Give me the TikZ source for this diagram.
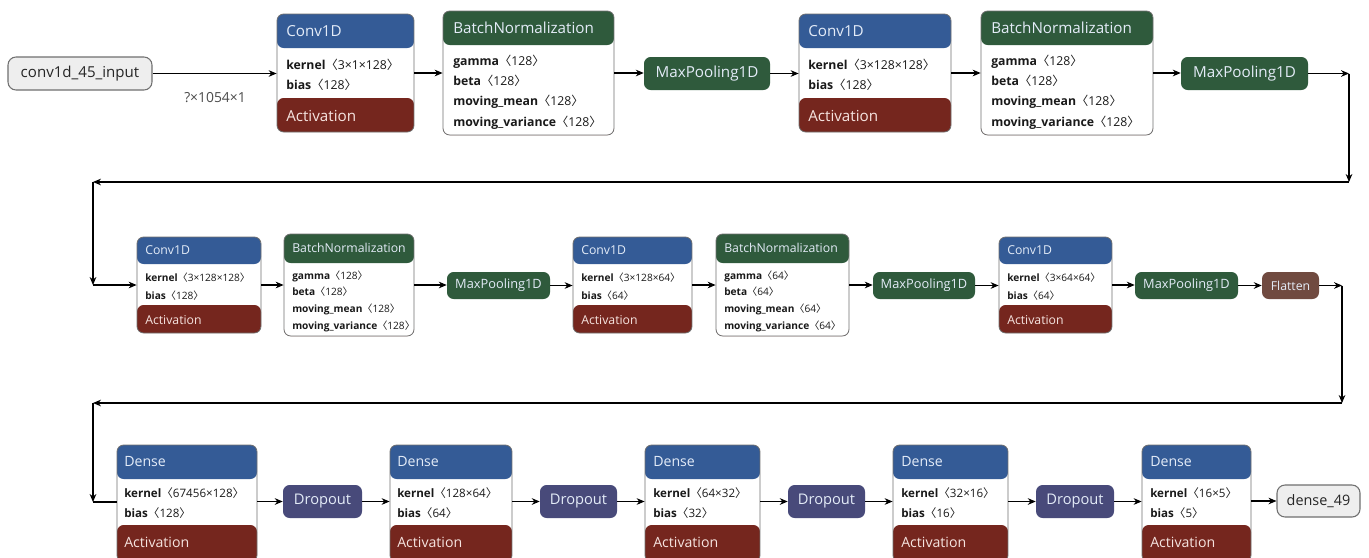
\documentclass[tikz,border=0pt]{standalone}
\usepackage{fontspec}
\setmainfont{Open Sans}
\newfontfamily\cjk{Noto Sans CJK SC}
\usetikzlibrary{fit,calc,arrows.meta}
\definecolor{convblue}{RGB}{52,91,150}
\definecolor{actred}{RGB}{117,38,30}
\definecolor{bngreen}{RGB}{47,90,60}
\definecolor{dropblue}{RGB}{72,74,122}
\definecolor{flatbrown}{RGB}{112,74,64}
\definecolor{edgegray}{RGB}{112,112,112}
\definecolor{iogray}{RGB}{238,238,238}
\definecolor{hdrtxt}{RGB}{228,236,248}
\definecolor{acttxt}{RGB}{246,228,224}
\definecolor{partxt}{RGB}{25,25,25}
\newcommand\br[1]{{\cjk 〈}#1{\cjk 〉}}
\tikzset{
  lay/.style n args={3}{draw=edgegray, line width=0.6pt, rounded corners=5pt, fill=white, inner sep=0pt,
    path picture={
      \fill[#1] (path picture bounding box.north west) rectangle ([yshift=-#2]path picture bounding box.north east);
      \fill[actred] (path picture bounding box.south west) rectangle ([yshift=#3]path picture bounding box.south east);
    }},
  pill/.style={draw=none, rounded corners=5pt, inner sep=0pt, fill=#1},
  pilltxt/.style={inner sep=0pt, text=hdrtxt, anchor=center},
  io/.style={draw=edgegray, line width=0.8pt, rounded corners=6pt, inner sep=0pt, fill=iogray},
  iotxt/.style={inner sep=0pt, text=black!85, anchor=center},
  ttlA/.style={anchor=west, inner sep=0pt, text=hdrtxt, font=\fontsize{11.4}{13}\selectfont},
  parA/.style={anchor=west, inner sep=0pt, text=partxt, font=\fontsize{9.2}{10}\selectfont},
  ttlB/.style={anchor=west, inner sep=0pt, text=hdrtxt, font=\fontsize{9.2}{11}\selectfont},
  parB/.style={anchor=west, inner sep=0pt, text=partxt, font=\fontsize{7.6}{8.5}\selectfont},
  ttlC/.style={anchor=west, inner sep=0pt, text=hdrtxt, font=\fontsize{10.6}{12}\selectfont},
  parC/.style={anchor=west, inner sep=0pt, text=partxt, font=\fontsize{8.7}{9.5}\selectfont},
  actA/.style={ttlA, text=acttxt},
  actB/.style={ttlB, text=acttxt},
  actC/.style={ttlC, text=acttxt},
  arr/.style={-{Stealth[length=6pt,width=5pt]}, line width=0.8pt, black},
  ln/.style={line width=0.8pt, black},
}
\begin{document}
\begin{tikzpicture}[x=0.75pt, y=-0.75pt]
\useasboundingbox (0,0) rectangle (1369,557);
\fill[white] (0,0) rectangle (1369,557);

% ---------------- Row 1 ----------------
\node[io, fit={(8,57)(152,90)}] (in) {};
\node[iotxt, font=\fontsize{11.3}{13}\selectfont] (intx) at (in.center) {conv1d\_45\_input};
\node[inner sep=0pt, text=black!70, font=\fontsize{10.4}{12}\selectfont] (shape) at (215,98) {?×1054×1};

\node[lay={convblue}{25.5pt}{25.5pt}, fit={(277,14)(414,132)}] (c1) {};
\node[ttlA] (c1t) at (286,31) {Conv1D};
\node[parA] (c1k) at (286,65) {\textbf{kernel}\br{3×1×128}};
\node[parA] (c1b) at (286,85) {\textbf{bias}\br{128}};
\node[actA] (c1a) at (286,116) {Activation};

\node[lay={bngreen}{25.5pt}{0pt}, fit={(443,11)(614,135)}] (b1) {};
\node[ttlA] (b1t) at (453,28) {BatchNormalization};
\node[parA] (b1g) at (453,62) {\textbf{gamma}\br{128}};
\node[parA] (b1b) at (453,81) {\textbf{beta}\br{128}};
\node[parA] (b1m) at (453,102) {\textbf{moving\_mean}\br{128}};
\node[parA] (b1v) at (453,123) {\textbf{moving\_variance}\br{128}};

\node[pill=bngreen, fit={(644,57)(770,90)}] (m1) {};
\node[pilltxt, font=\fontsize{11.4}{13}\selectfont] (m1t) at (m1.center) {MaxPooling1D};

\node[lay={convblue}{25.5pt}{25.5pt}, fit={(799,14)(951,132)}] (c2) {};
\node[ttlA] (c2t) at (808,31) {Conv1D};
\node[parA] (c2k) at (808,65) {\textbf{kernel}\br{3×128×128}};
\node[parA] (c2b) at (808,85) {\textbf{bias}\br{128}};
\node[actA] (c2a) at (808,116) {Activation};

\node[lay={bngreen}{25.5pt}{0pt}, fit={(981,11)(1153,135)}] (b2) {};
\node[ttlA] (b2t) at (991,28) {BatchNormalization};
\node[parA] (b2g) at (991,62) {\textbf{gamma}\br{128}};
\node[parA] (b2b) at (991,81) {\textbf{beta}\br{128}};
\node[parA] (b2m) at (991,102) {\textbf{moving\_mean}\br{128}};
\node[parA] (b2v) at (991,123) {\textbf{moving\_variance}\br{128}};

\node[pill=bngreen, fit={(1181,57)(1308,90)}] (m2) {};
\node[pilltxt, font=\fontsize{11.4}{13}\selectfont] (m2t) at (m2.center) {MaxPooling1D};

% ---------------- Row 2 ----------------
\node[lay={convblue}{20.25pt}{21pt}, fit={(137,237)(261,333)}] (c3) {};
\node[ttlB] (c3t) at (145,250) {Conv1D};
\node[parB] (c3k) at (145,278) {\textbf{kernel}\br{3×128×128}};
\node[parB] (c3b) at (145,296) {\textbf{bias}\br{128}};
\node[actB] (c3a) at (145,320) {Activation};

\node[lay={bngreen}{21.75pt}{0pt}, fit={(284,234)(414,336)}] (b3) {};
\node[ttlB] (b3t) at (292,248) {BatchNormalization};
\node[parB] (b3g) at (292,276) {\textbf{gamma}\br{128}};
\node[parB] (b3b) at (292,292) {\textbf{beta}\br{128}};
\node[parB] (b3m) at (292,309) {\textbf{moving\_mean}\br{128}};
\node[parB] (b3v) at (292,326) {\textbf{moving\_variance}\br{128}};

\node[pill=bngreen, fit={(447,272)(550,299)}] (m3) {};
\node[pilltxt, font=\fontsize{9.6}{11}\selectfont] (m3t) at (m3.center) {MaxPooling1D};

\node[lay={convblue}{20.25pt}{21pt}, fit={(573,237)(692,333)}] (c4) {};
\node[ttlB] (c4t) at (581,250) {Conv1D};
\node[parB] (c4k) at (581,278) {\textbf{kernel}\br{3×128×64}};
\node[parB] (c4b) at (581,296) {\textbf{bias}\br{64}};
\node[actB] (c4a) at (581,320) {Activation};

\node[lay={bngreen}{21.75pt}{0pt}, fit={(716,234)(849,336)}] (b4) {};
\node[ttlB] (b4t) at (724,248) {BatchNormalization};
\node[parB] (b4g) at (724,276) {\textbf{gamma}\br{64}};
\node[parB] (b4b) at (724,292) {\textbf{beta}\br{64}};
\node[parB] (b4m) at (724,309) {\textbf{moving\_mean}\br{64}};
\node[parB] (b4v) at (724,326) {\textbf{moving\_variance}\br{64}};

\node[pill=bngreen, fit={(873,272)(975,299)}] (m4) {};
\node[pilltxt, font=\fontsize{9.6}{11}\selectfont] (m4t) at (m4.center) {MaxPooling1D};

\node[lay={convblue}{20.25pt}{21pt}, fit={(999,237)(1112,333)}] (c5) {};
\node[ttlB] (c5t) at (1007,250) {Conv1D};
\node[parB] (c5k) at (1007,278) {\textbf{kernel}\br{3×64×64}};
\node[parB] (c5b) at (1007,296) {\textbf{bias}\br{64}};
\node[actB] (c5a) at (1007,320) {Activation};

\node[pill=bngreen, fit={(1135,272)(1238,299)}] (m5) {};
\node[pilltxt, font=\fontsize{9.6}{11}\selectfont] (m5t) at (m5.center) {MaxPooling1D};
\node[pill=flatbrown, fit={(1262,272)(1319,299)}] (fl) {};
\node[pilltxt, font=\fontsize{9.2}{11}\selectfont] (flt) at (fl.center) {Flatten};

% ---------------- Row 3 ----------------
\node[lay={convblue}{25.5pt}{27.75pt}, fit={(117,445)(257,562)}] (d1) {};
\node[ttlC] (d1t) at (124,462) {Dense};
\node[parC] (d1k) at (124,493) {\textbf{kernel}\br{67456×128}};
\node[parC] (d1b) at (124,513) {\textbf{bias}\br{128}};
\node[actC] (d1a) at (124,542) {Activation};

\node[pill=dropblue, fit={(283,485)(362,518)}] (p1) {};
\node[pilltxt, font=\fontsize{11}{13}\selectfont] (p1t) at (p1.center) {Dropout};

\node[lay={convblue}{25.5pt}{27.75pt}, fit={(390,445)(512,562)}] (d2) {};
\node[ttlC] (d2t) at (397,462) {Dense};
\node[parC] (d2k) at (397,493) {\textbf{kernel}\br{128×64}};
\node[parC] (d2b) at (397,513) {\textbf{bias}\br{64}};
\node[actC] (d2a) at (397,542) {Activation};

\node[pill=dropblue, fit={(540,485)(617,518)}] (p2) {};
\node[pilltxt, font=\fontsize{11}{13}\selectfont] (p2t) at (p2.center) {Dropout};

\node[lay={convblue}{25.5pt}{27.75pt}, fit={(645,445)(760,562)}] (d3) {};
\node[ttlC] (d3t) at (653,462) {Dense};
\node[parC] (d3k) at (653,493) {\textbf{kernel}\br{64×32}};
\node[parC] (d3b) at (653,513) {\textbf{bias}\br{32}};
\node[actC] (d3a) at (653,542) {Activation};

\node[pill=dropblue, fit={(788,485)(865,518)}] (p3) {};
\node[pilltxt, font=\fontsize{11}{13}\selectfont] (p3t) at (p3.center) {Dropout};

\node[lay={convblue}{25.5pt}{27.75pt}, fit={(893,445)(1008,562)}] (d4) {};
\node[ttlC] (d4t) at (901,462) {Dense};
\node[parC] (d4k) at (901,493) {\textbf{kernel}\br{32×16}};
\node[parC] (d4b) at (901,513) {\textbf{bias}\br{16}};
\node[actC] (d4a) at (901,542) {Activation};

\node[pill=dropblue, fit={(1036,485)(1114,518)}] (p4) {};
\node[pilltxt, font=\fontsize{11}{13}\selectfont] (p4t) at (p4.center) {Dropout};

\node[lay={convblue}{25.5pt}{27.75pt}, fit={(1142,445)(1251,562)}] (d5) {};
\node[ttlC] (d5t) at (1150,462) {Dense};
\node[parC] (d5k) at (1150,493) {\textbf{kernel}\br{16×5}};
\node[parC] (d5b) at (1150,513) {\textbf{bias}\br{5}};
\node[actC] (d5a) at (1150,542) {Activation};

\node[io, fit={(1277,485)(1360,517)}] (out) {};
\node[iotxt, font=\fontsize{10.8}{13}\selectfont] (outtx) at (out.center) {dense\_49};

% ---------------- Connectors ----------------
\draw[arr] (in.east) -- (in.east -| c1.west);
\draw[arr] (c1.east) -- (c1.east -| b1.west);
\draw[arr] (b1.east) -- (b1.east -| m1.west);
\draw[arr] (m1.east) -- (m1.east -| c2.west);
\draw[arr] (c2.east) -- (c2.east -| b2.west);
\draw[arr] (b2.east) -- (b2.east -| m2.west);

\coordinate (r1a) at (1349,73.5);
\coordinate (r1b) at (1349,182);
\coordinate (r1c) at (93,182);
\coordinate (r1d) at (93,285);
\draw[arr] (m2.east) -- (r1a);
\draw[arr] (r1a) -- (r1b);
\draw[arr] (r1b) -- (r1c);
\draw[arr] (r1c) -- (r1d);
\draw[arr] (r1d) -- (r1d -| c3.west);

\draw[arr] (c3.east) -- (c3.east -| b3.west);
\draw[arr] (b3.east) -- (b3.east -| m3.west);
\draw[arr] (m3.east) -- (m3.east -| c4.west);
\draw[arr] (c4.east) -- (c4.east -| b4.west);
\draw[arr] (b4.east) -- (b4.east -| m4.west);
\draw[arr] (m4.east) -- (m4.east -| c5.west);
\draw[arr] (c5.east) -- (c5.east -| m5.west);
\draw[arr] (m5.east) -- (m5.east -| fl.west);

\coordinate (r2a) at (1342,285.5);
\coordinate (r2b) at (1342,403);
\coordinate (r2c) at (93,403);
\coordinate (r2d) at (93,502);
\draw[arr] (fl.east) -- (r2a);
\draw[arr] (r2a) -- (r2b);
\draw[arr] (r2b) -- (r2c);
\draw[arr] (r2c) -- (r2d);
\draw[ln] (r2d) -- (r2d -| d1.west);

\draw[arr] (d1.east |- p1.west) -- (p1.west);
\draw[arr] (p1.east) -- (p1.east -| d2.west);
\draw[arr] (d2.east |- p2.west) -- (p2.west);
\draw[arr] (p2.east) -- (p2.east -| d3.west);
\draw[arr] (d3.east |- p3.west) -- (p3.west);
\draw[arr] (p3.east) -- (p3.east -| d4.west);
\draw[arr] (d4.east |- p4.west) -- (p4.west);
\draw[arr] (p4.east) -- (p4.east -| d5.west);
\draw[arr] (d5.east |- out.west) -- (out.west);
\end{tikzpicture}
\end{document}
